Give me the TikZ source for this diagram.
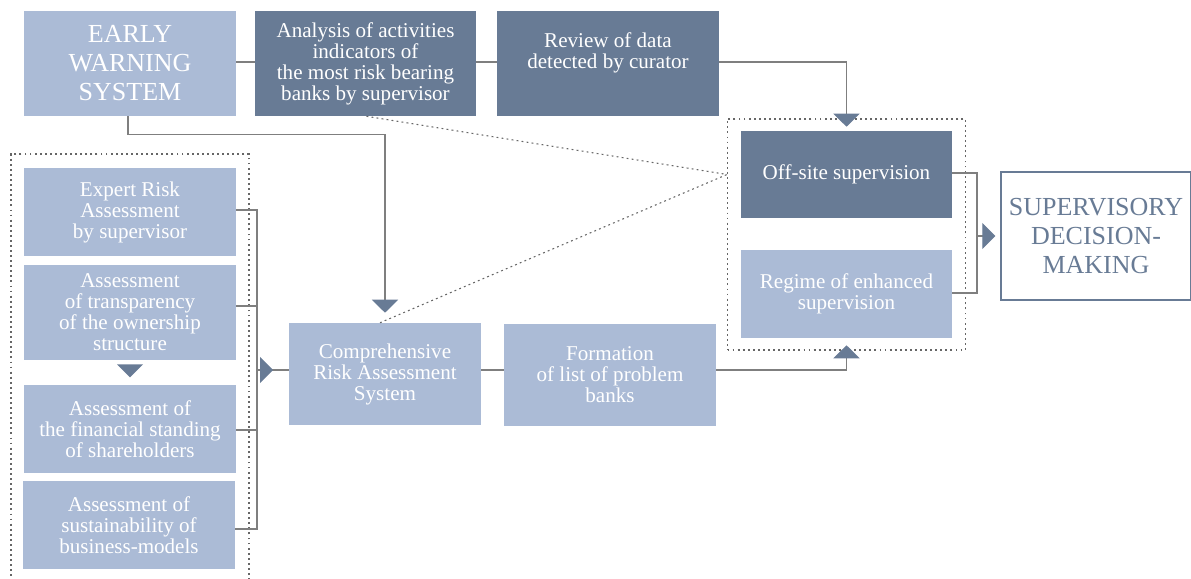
\documentclass[tikz,border=0pt]{standalone}
\usepackage{fontspec}
\setmainfont{Liberation Serif}
\usetikzlibrary{arrows.meta,calc}
\definecolor{lightb}{HTML}{ABBBD6}
\definecolor{darkb}{HTML}{687B95}
\definecolor{linec}{HTML}{7F7F7F}
\definecolor{dotc}{HTML}{666666}
\begin{document}
\begin{tikzpicture}[x=0.75pt,y=-0.75pt,
 box/.style={rectangle, inner sep=0pt, align=center, text=white, font=\fontsize{15.8}{15.75}\selectfont},
 lbox/.style={box, fill=lightb},
 dbox/.style={box, fill=darkb},
 bigtext/.style={font=\fontsize{19.5}{21.75}\selectfont},
 conn/.style={draw=linec, line width=0.9pt},
 tip/.style={-{Triangle[width=19.5pt,length=9.75pt,color=darkb,fill=darkb]}},
 dots/.style={draw=dotc, line width=0.8pt, dash pattern=on 1.4pt off 2.4pt},
]
\useasboundingbox (0,0) rectangle (1191,578);

% top row
\node[lbox, bigtext, minimum width=159pt, minimum height=78.75pt] (ews) at (130,63.5) {EARLY\\WARNING\\SYSTEM};
\node[dbox, minimum width=165.75pt, minimum height=78.75pt] (analysis) at (365.5,63.5) {Analysis of activities\\indicators of\\the most risk bearing\\banks by supervisor};
\node[dbox, minimum width=166.5pt, minimum height=78.75pt] (review) at (608,63.5) {};
\node[box] (revtext) at (608,52.5) {Review of data\\detected by curator};

% right group
\node[dots, rectangle, minimum width=178.5pt, minimum height=173.25pt] (offbox) at (846.5,234.5) {};
\node[dbox, minimum width=158.25pt, minimum height=65.25pt] (offsite) at (846.5,174.5) {Off-site supervision};
\node[lbox, minimum width=158.25pt, minimum height=66pt] (regime) at (846.5,294) {Regime of enhanced\\supervision};
\node[rectangle, draw=darkb, line width=1.1pt, fill=white, text=darkb, bigtext, align=center, inner sep=0pt, minimum width=142.5pt, minimum height=96pt] (sup) at (1096,236) {SUPERVISORY\\DECISION-\\MAKING};

% left group
\draw[dots] (249,585) -- (249,154) -- (11,154) -- (11,585);
\node[lbox, minimum width=159pt, minimum height=66pt] (expert) at (130,212) {Expert Risk\\Assessment\\by supervisor};
\node[lbox, minimum width=159pt, minimum height=71.25pt] (trans) at (130,312.5) {Assessment\\of transparency\\of the ownership\\structure};
\node[lbox, minimum width=159pt, minimum height=66pt] (fin) at (130,429) {Assessment of\\the financial standing\\of shareholders};
\node[lbox, minimum width=159pt, minimum height=66pt] (sust) at (129,525) {Assessment of\\sustainability of\\business-models};

% middle row
\node[lbox, minimum width=144pt, minimum height=76.5pt] (compr) at (385,374) {Comprehensive\\Risk Assessment\\System};
\node[lbox, minimum width=159pt, minimum height=76.5pt] (form) at (610,375) {Formation\\of list of problem\\banks};

% connectors top
\draw[conn] (ews.east |- 0,62) -- (analysis.west |- 0,62);
\draw[conn] (analysis.east |- 0,62) -- (review.west |- 0,62);
\draw[conn,tip] (review.east |- 0,62) -| ($(offsite.north)+(0,-4)$);
\draw[conn,tip] ($(ews.south)+(-2,0)$) -- ++(0,18) -| ($(compr.north)+(0,-10)$);

% dotted links
\coordinate (meet) at (offbox.west |- offsite.west);
\draw[dots] ($(analysis.south)+(1,0)$) -- (meet);
\draw[dots] ($(compr.north)+(-5,0)$) -- (meet);

% left bracket
\coordinate (brx) at (257,0);
\draw[conn] (expert.east |- 0,210) -- (brx |- 0,210) -- (brx |- 0,529) -- (sust.east |- 0,529);
\draw[conn] (trans.east |- 0,306) -- (brx |- 0,306);
\draw[conn] (fin.east |- 0,430) -- (brx |- 0,430);
\draw[conn] (brx |- 0,370) -- (compr.west |- 0,370);
\draw[conn,tip] (brx |- 0,370) -- (273,370);
\fill[darkb] ($(trans.south)+(-13,4)$) -- ($(trans.south)+(13,4)$) -- ($(trans.south)+(0,17)$) -- cycle;

% middle row connectors
\draw[conn] (compr.east |- 0,370) -- (form.west |- 0,370);
\draw[conn,tip] (form.east |- 0,370) -| ($(regime.south)+(0,7)$);

% right bracket
\coordinate (brx2) at (977,0);
\draw[conn] (offsite.east |- 0,173) -- (brx2 |- 0,173) -- (brx2 |- 0,293) -- (regime.east |- 0,293);
\draw[conn,tip] (brx2 |- sup.west) -- ($(sup.west)+(-5,0)$);
\end{tikzpicture}
\end{document}
